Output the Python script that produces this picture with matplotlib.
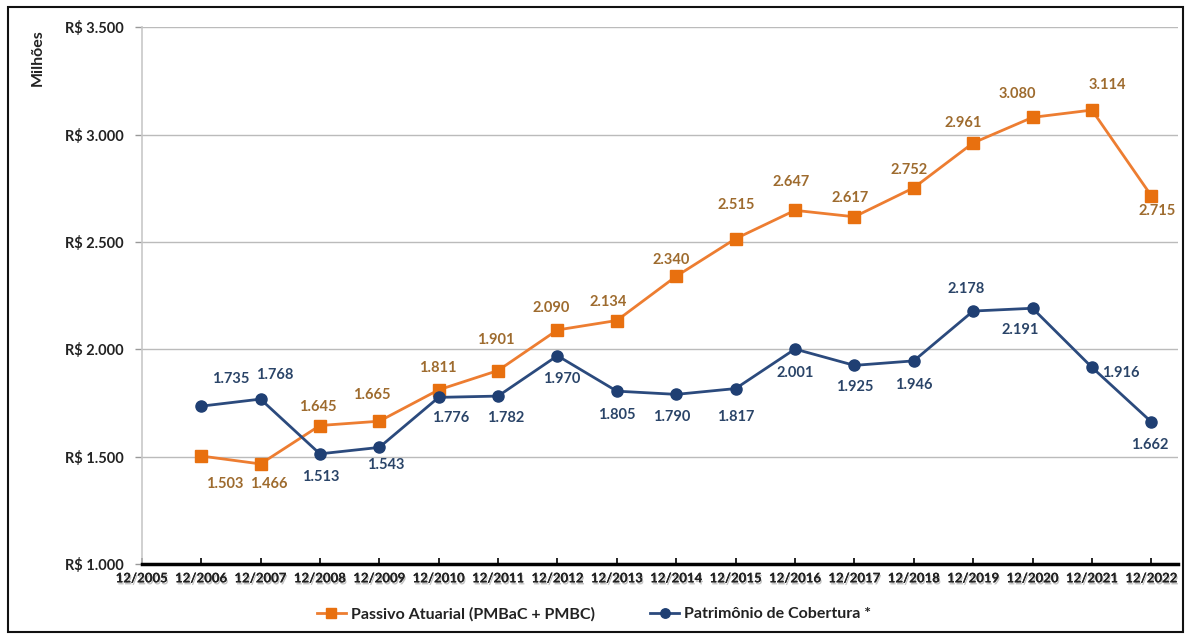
import matplotlib.pyplot as plt
import matplotlib.patheffects as pe
from matplotlib.patches import Rectangle

anos = ['12/2005', '12/2006', '12/2007', '12/2008', '12/2009', '12/2010', '12/2011',
        '12/2012', '12/2013', '12/2014', '12/2015', '12/2016', '12/2017', '12/2018',
        '12/2019', '12/2020', '12/2021', '12/2022']

passivo = [1503, 1466, 1645, 1665, 1811, 1901, 2090, 2134, 2340, 2515, 2647, 2617,
           2752, 2961, 3080, 3114, 2715]
patrimonio = [1735, 1768, 1513, 1543, 1776, 1782, 1970, 1805, 1790, 1817, 2001, 1925,
              1946, 2178, 2191, 1916, 1662]

# deslocamento dos rótulos (pixels)
off_passivo = [(24, -28), (8, -20), (-2, 19), (-8, 26), (-1, 22), (-2, 31), (-6, 22),
               (-9, 19), (-5, 16), (1, 34), (-4, 28), (-4, 19), (-5, 18), (-10, 20),
               (-15, 23), (15, 25), (6, -15)]
off_patrimonio = [(30, 27), (14, 24), (1, -23), (6, -18), (12, -21), (8, -22), (4, -23),
                  (0, -24), (-5, -23), (0, -28), (0, -24), (0, -22), (0, -24), (-7, 22),
                  (-12, -22), (29, -6), (-2, -23)]

cor_laranja = '#ED7D31'
cor_azul = '#2B4A7D'
txt_laranja = '#9E6B2E'
txt_azul = '#2A4468'

plt.rcParams['font.family'] = ['Lato', 'DejaVu Sans']

fig = plt.figure(figsize=(11.88, 6.35), dpi=100)
ax = fig.add_axes([0.1193, 0.1118, 0.8723, 0.8454])

x = list(range(1, len(anos)))
ax.plot(x, passivo, color=cor_laranja, lw=2, marker='s', ms=8, mfc='#E8700F',
        mec='#E8700F', label='Passivo Atuarial (PMBaC + PMBC)', zorder=3)
ax.plot(x, patrimonio, color=cor_azul, lw=2, marker='o', ms=8, mfc='#1F3F73',
        mec='#1F3F73', label='Patrimônio de Cobertura *', zorder=3)

for xi, v, (dx, dy) in zip(x, passivo, off_passivo):
    ax.annotate(f'{v/1000:.3f}', (xi, v), xytext=(dx, dy), textcoords='offset pixels',
                ha='center', va='center', fontsize=10.5, fontweight='bold', color=txt_laranja)
for xi, v, (dx, dy) in zip(x, patrimonio, off_patrimonio):
    ax.annotate(f'{v/1000:.3f}', (xi, v), xytext=(dx, dy), textcoords='offset pixels',
                ha='center', va='center', fontsize=10.5, fontweight='bold', color=txt_azul)

ax.set_xlim(0, 17.45)
ax.set_ylim(1000, 3500)
ax.set_yticks([1000, 1500, 2000, 2500, 3000, 3500])
ax.set_yticklabels(['R$ 1.000', 'R$ 1.500', 'R$ 2.000', 'R$ 2.500', 'R$ 3.000', 'R$ 3.500'],
                   fontsize=10.5, fontweight='bold', color='#222222')
ax.set_xticks(range(len(anos)))
ax.set_xticklabels(anos, fontsize=9.5, fontweight='bold', color='#222222',
                   path_effects=[pe.withSimplePatchShadow(offset=(0.8, -1.5),
                                                          shadow_rgbFace='#888888', alpha=0.5),
                                 pe.Normal()])
ax.tick_params(axis='x', direction='in', length=4, width=1.2, color='black', pad=6)
ax.tick_params(axis='y', length=5, width=1, color='#999999', pad=8)

ax.grid(axis='y', color='#BBBBBB', lw=1)
for s in ['top', 'right']:
    ax.spines[s].set_visible(False)
ax.spines['left'].set_color('#C8C8C8')
ax.spines['left'].set_linewidth(1.2)
ax.spines['bottom'].set_color('black')
ax.spines['bottom'].set_linewidth(2.5)
ax.spines['bottom'].set_zorder(4)

fig.text(38 / 1188, 1 - 58 / 635, 'Milhões', rotation=90, ha='center', va='center',
         fontsize=11.5, fontweight='bold', color='#222222')

fig.legend(loc='center', bbox_to_anchor=(0.5, 1 - 614 / 635), ncol=2, frameon=False,
           prop={'size': 11.5, 'weight': 'bold'}, handlelength=1.8, handletextpad=0.3,
           markerscale=0.85, columnspacing=3.5, labelcolor='#222222')

fig.patches.append(Rectangle((8 / 1188, 3 / 635), 1 - 13 / 1188, 1 - 10 / 635,
                             transform=fig.transFigure, fill=False, lw=1.5,
                             edgecolor='#111111'))

fig.savefig('out.png', dpi=100)
